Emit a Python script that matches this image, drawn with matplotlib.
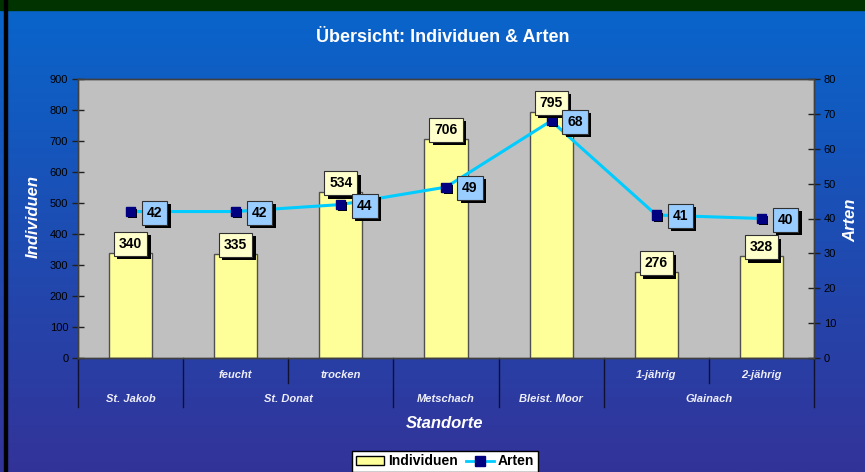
import numpy as np
import matplotlib
matplotlib.use("Agg")
import matplotlib.pyplot as plt
import matplotlib.patheffects as pe
from matplotlib.patches import Patch, Rectangle
from matplotlib.lines import Line2D

# Daten
standorte_sub = ['', 'feucht', 'trocken', '', '', '1-jährig', '2-jährig']
standorte_gruppe = ['St. Jakob', 'St. Donat', 'St. Donat', 'Metschach',
                    'Bleist. Moor', 'Glainach', 'Glainach']
individuen = [340, 335, 534, 706, 795, 276, 328]
arten = [42, 42, 44, 49, 68, 41, 40]

plt.rcParams['font.family'] = ['Liberation Sans', 'DejaVu Sans']

W, H = 865, 472
fig = plt.figure(figsize=(W / 100, H / 100), dpi=100)

# Hintergrund mit Farbverlauf
bg = fig.add_axes([0, 0, 1, 1], zorder=-10)
top = np.array([8, 102, 204]) / 255
bot = np.array([51, 51, 153]) / 255
t = np.linspace(0, 1, 256)[:, None]
grad = (top[None, :] * (1 - t) + bot[None, :] * t)[:, None, :]
bg.imshow(grad, aspect='auto', extent=[0, 1, 0, 1], origin='upper')
bg.add_patch(Rectangle((0, 1 - 9.5 / H), 1, 9.5 / H, color='#003300'))
bg.add_patch(Rectangle((4 / W, 0), 3 / W, 1, color='black'))
bg.set_xlim(0, 1)
bg.set_ylim(0, 1)
bg.axis('off')

ax = fig.add_axes([78 / W, (H - 358) / H, 736 / W, 279 / H])
ax.set_facecolor('#C0C0C0')
x = np.arange(len(individuen))
ax.bar(x, individuen, width=0.41, color='#FFFF99', edgecolor='#505050',
       linewidth=1, zorder=2)
ax.set_xlim(-0.5, len(x) - 0.5)
ax.set_ylim(0, 900)
ax.set_yticks(np.arange(0, 901, 100))
ax.set_xticks([])

ax2 = ax.twinx()
ax2.set_ylim(0, 80)
ax2.set_yticks(np.arange(0, 81, 10))
ax2.plot(x, arten, color='#00CCFF', lw=2.2, zorder=3)
ax2.plot(x, arten, ls='none', marker='s', ms=6.5, mfc='#000080', mec='#000080',
         zorder=4,
         path_effects=[pe.SimplePatchShadow(offset=(1.5, -1.5),
                                            shadow_rgbFace='black', alpha=1),
                       pe.Normal()])

for a in (ax, ax2):
    a.tick_params(axis='y', direction='inout', length=8, width=1,
                  color='#202020', labelsize=8, labelcolor='black', pad=3)
    for s in a.spines.values():
        s.set_color('#404040')
        s.set_linewidth(1)


def box_label(xv, yv, text, face, dx, dy, trans):
    lab = ax2.annotate(text, (xv, yv), xycoords=trans, xytext=(dx, dy),
                       textcoords='offset pixels', ha='center', va='center',
                       fontsize=10, fontweight='bold', color='black',
                       bbox=dict(boxstyle='square,pad=0.36', fc=face,
                                 ec='#303030', lw=0.8),
                       zorder=10, annotation_clip=False)
    lab.get_bbox_patch().set_path_effects(
        [pe.SimplePatchShadow(offset=(2.4, -2.4), shadow_rgbFace='black',
                              alpha=1), pe.Normal()])


for xi, v in zip(x, individuen):
    box_label(xi, v, str(v), '#FFFFCC', 0, 9, ax.transData)
for xi, v in zip(x, arten):
    box_label(xi, v, str(v), '#99CCFF', 24, -1, ax2.transData)

# mehrstufige Kategorienachse
xt = ax.get_xaxis_transform()
txt_kw = dict(transform=xt, ha='center', va='center', fontsize=8,
              fontweight='bold', fontstyle='italic', color='#EEEEF8',
              clip_on=False)
y_l1, y_l2, y_long, y_short = -0.061, -0.147, -0.176, -0.090
line_kw = dict(transform=xt, color='#101030', lw=1, clip_on=False)

for xi, s in enumerate(standorte_sub):
    if s:
        ax.text(xi, y_l1, s, **txt_kw)

runs = []
start = 0
for i in range(1, len(standorte_gruppe) + 1):
    if i == len(standorte_gruppe) or standorte_gruppe[i] != standorte_gruppe[start]:
        runs.append((standorte_gruppe[start], start, i - 1))
        start = i

ax.plot([-0.5, -0.5], [0, y_long], **line_kw)
for name, a0, a1 in runs:
    ax.text((a0 + a1) / 2, y_l2, name, **txt_kw)
    ax.plot([a1 + 0.5, a1 + 0.5], [0, y_long], **line_kw)
    for k in range(a0, a1):
        ax.plot([k + 0.5, k + 0.5], [0, y_short], **line_kw)

fig.text(442.5 / W, 1 - 37 / H, 'Übersicht: Individuen & Arten', ha='center',
         va='center', fontsize=13, fontweight='bold', color='white')
fig.text(33 / W, 1 - 217 / H, 'Individuen', rotation=90, ha='center',
         va='center', fontsize=12, fontweight='bold', fontstyle='italic',
         color='white')
fig.text(851 / W, 1 - 220 / H, 'Arten', rotation=90, ha='center',
         va='center', fontsize=12, fontweight='bold', fontstyle='italic',
         color='white')
fig.text(445 / W, 1 - 423 / H, 'Standorte', ha='center', va='center',
         fontsize=12, fontweight='bold', fontstyle='italic', color='white')

handles = [Patch(fc='#FFFF99', ec='black', lw=1),
           Line2D([], [], color='#00CCFF', lw=2, marker='s', ms=7,
                  mfc='#000080', mec='#000080')]
leg = fig.legend(handles, ['Individuen', 'Arten'], loc='upper center',
                 bbox_to_anchor=(445 / W, 1 - 451 / H), ncol=2, frameon=True,
                 fancybox=False, edgecolor='black', facecolor='white',
                 framealpha=1, prop=dict(weight='bold', size=10),
                 handlelength=2.0, handletextpad=0.3, columnspacing=0.6,
                 borderpad=0.25, borderaxespad=0)
leg.get_frame().set_linewidth(1)

fig.savefig('out.png', dpi=100)
